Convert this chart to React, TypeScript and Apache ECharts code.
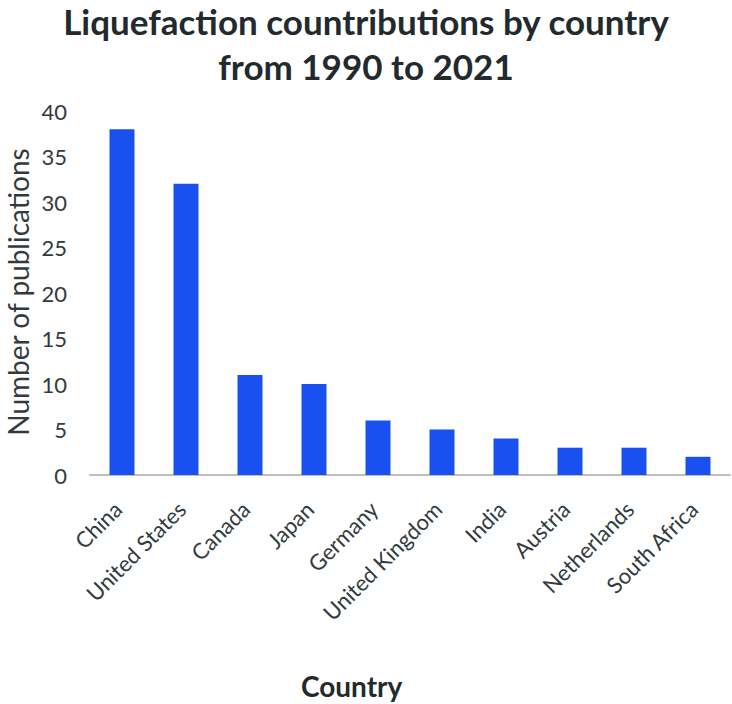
import React, { useEffect, useRef } from "react";
import * as echarts from "echarts";

const categories = ["China", "United States", "Canada", "Japan", "Germany", "United Kingdom", "India", "Austria", "Netherlands", "South Africa"];
const publications = [38, 32, 11, 10, 6, 5, 4, 3, 3, 2];
const titleLine1 = "Liquefaction countributions by country";
const titleLine2 = "from 1990 to 2021";
const yAxisName = "Number of publications";
const xAxisName = "Country";

const FONT = "Lato, 'Open Sans', sans-serif";

export default function App() {
  const ref = useRef<HTMLDivElement>(null);
  useEffect(() => {
    document.body.style.margin = "0";
    const chart = echarts.init(ref.current!, undefined, { renderer: "svg" });
    const titleStyle = { fontFamily: FONT, fontSize: 35, fontWeight: "bold", color: "#222a2e", lineHeight: 42 };
    chart.setOption({
      animation: false,
      backgroundColor: "#ffffff",
      textStyle: { fontFamily: FONT },
      title: {
        text: titleLine1,
        subtext: titleLine2,
        left: "center",
        top: 0,
        padding: [0, 5, 0, 5],
        itemGap: 3,
        textStyle: titleStyle,
        subtextStyle: titleStyle,
      },
      grid: { left: 90, right: 2, top: 111, bottom: 229, containLabel: false, outerBoundsMode: "none" },
      xAxis: {
        type: "category",
        data: categories,
        axisLine: { show: true, lineStyle: { color: "#bfbfbf", width: 2 } },
        axisTick: { show: false },
        axisLabel: { rotate: 45, interval: 0, margin: 26, padding: [0, 6, 0, 0], fontFamily: FONT, fontSize: 22, color: "#333a3e" },
      },
      yAxis: {
        type: "value",
        min: 0,
        max: 40,
        interval: 5,
        axisLine: { show: false },
        axisTick: { show: false },
        splitLine: { show: false },
        axisLabel: { margin: 23, fontFamily: FONT, fontSize: 22, color: "#333a3e" },
      },
      graphic: [
        {
          type: "text",
          x: 18,
          y: 292,
          rotation: Math.PI / 2,
          style: {
            text: yAxisName,
            align: "center",
            verticalAlign: "middle",
            fontFamily: FONT,
            fontSize: 28,
            fill: "#333a3e",
          },
        },
        {
          type: "text",
          left: 351 - 50,
          top: 672,
          style: { text: xAxisName, fontFamily: FONT, fontSize: 28, fontWeight: "bold", fill: "#222a2e" },
        },
      ],
      series: [
        {
          type: "bar",
          data: publications,
          barWidth: "39%",
          itemStyle: { color: "#1a4ff0" },
        },
      ],
    });
    return () => chart.dispose();
  }, []);
  return <div ref={ref} style={{ width: 732, height: 704 }} />;
}
